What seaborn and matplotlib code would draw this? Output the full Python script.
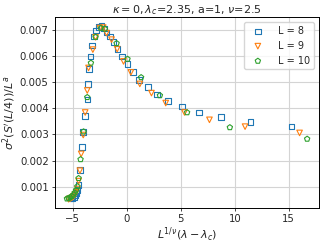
import numpy as np
import pandas as pd
import matplotlib
matplotlib.use("Agg")
import matplotlib.pyplot as plt
import seaborn as sns

# scaled coordinates L^{1/nu}(lambda - lambda_c) and sigma^2 / L^a  (values in units of 1e-3)
x8 = [-5.2, -5.05, -4.9, -4.78, -4.66, -4.56, -4.47, -4.35, -4.13, -4.04, -3.89, -3.66, -3.62,
      -3.52, -3.36, -3.21, -3.03, -2.84, -2.62, -2.34, -2.10, -1.88, -1.54, -1.23, -0.86, -0.43,
      0.06, 0.59, 1.14, 1.94, 2.80, 3.83, 5.10, 6.70, 8.70, 11.45, 15.25]
y8 = [0.55, 0.58, 0.62, 0.68, 0.76, 0.88, 1.08, 1.65, 2.53, 3.10, 3.71, 4.33, 4.93,
      5.50, 5.98, 6.40, 6.74, 6.97, 7.10, 7.15, 7.04, 6.90, 6.74, 6.52, 6.27, 5.98,
      5.69, 5.39, 5.07, 4.81, 4.52, 4.28, 4.06, 3.84, 3.67, 3.48, 3.30]

x9 = [-5.4, -5.25, -5.1, -4.95, -4.82, -4.7, -4.58, -4.47, -4.35, -4.23, -4.04, -3.86, -3.67,
      -3.55, -3.15, -2.90, -2.50, -2.19, -1.88, -1.42, -0.90, -0.31, 0.37, 1.20, 2.28, 3.60,
      5.34, 7.65, 10.95, 16.0]
y9 = [0.53, 0.55, 0.58, 0.63, 0.70, 0.79, 0.92, 1.22, 1.62, 2.26, 2.98, 3.84, 4.68,
      5.54, 6.24, 6.71, 7.06, 7.08, 6.87, 6.62, 6.26, 5.79, 5.37, 4.93, 4.58, 4.20,
      3.84, 3.56, 3.30, 3.06]

x10 = [-5.55, -5.4, -5.25, -5.1, -4.95, -4.82, -4.7, -4.58, -4.47, -4.29, -4.01, -3.67, -3.33,
       -2.90, -2.41, -2.04, -0.95, 0.06, 1.32, 3.06, 5.58, 9.54, 16.7]
y10 = [0.55, 0.57, 0.60, 0.64, 0.70, 0.78, 0.88, 1.02, 1.33, 2.05, 3.11, 4.42, 5.73,
       6.72, 7.06, 7.03, 6.48, 5.88, 5.18, 4.49, 3.84, 3.27, 2.83]

sizes = [8, 9, 10]
series = [(x8, y8), (x9, y9), (x10, y10)]
markers = ['s', 'v', 'p']

sns.set_style("ticks")
plt.rcParams['font.family'] = ['DejaVu Sans']
plt.rcParams['mathtext.fontset'] = 'dejavusans'

fig, ax = plt.subplots(figsize=(3.27, 2.44), dpi=100)
fig.subplots_adjust(left=0.168, right=0.976, top=0.930, bottom=0.148)

palette = sns.color_palette("tab10")
for i, (L, (xs, ys)) in enumerate(zip(sizes, series)):
    df = pd.DataFrame({'x': xs, 'y': np.array(ys) * 1e-3})
    sns.scatterplot(data=df, x='x', y='y', ax=ax, marker=markers[i], s=16,
                    color=palette[i], facecolor='none', edgecolor=palette[i],
                    linewidth=0.8, label=f'L = {L}', zorder=3)

ax.grid(True, color='#d4d4d4', linewidth=0.8)
ax.set_axisbelow(True)
ax.set_xticks([-5, 0, 5, 10, 15])
ax.set_yticks([0.001, 0.002, 0.003, 0.004, 0.005, 0.006, 0.007])
ax.tick_params(labelsize=7.3, length=2.5, width=0.6, pad=2)
for sp in ax.spines.values():
    sp.set_color('black')
    sp.set_linewidth(0.7)

ax.set_xlabel(r'$L^{1/\nu}(\lambda-\lambda_c)$', fontsize=8, labelpad=1)
ax.set_ylabel(r"$\sigma^2(S'(L/4))/L^a$", fontsize=8, labelpad=1)
ax.set_title(r'$\kappa=0, \lambda_c$=2.35, a=1, $\nu$=2.5', fontsize=8, pad=3)

leg = ax.legend(loc='upper right', fontsize=7, handletextpad=1.1, borderpad=0.4,
                labelspacing=0.5, framealpha=0.8, edgecolor='#cccccc')

fig.savefig('out.png', dpi=100)
